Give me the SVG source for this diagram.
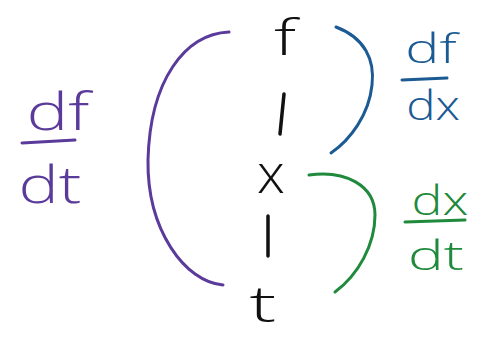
<svg xmlns="http://www.w3.org/2000/svg" width="490" height="339" viewBox="0 0 490 339">
<style>
  .t{font-family:"Open Sans","Liberation Sans",sans-serif;font-weight:300;text-anchor:middle}
  .k{fill:#111}
  .p{fill:#5a3a9a}.pl{stroke:#5a3a9a}
  .b{fill:#1c5a94}.bl{stroke:#1c5a94}
  .g{fill:#1f8a3c}.gl{stroke:#1f8a3c}
  .s{fill:none;stroke-width:3;stroke-linecap:round}
  .c{stroke:#111;stroke-width:3.5;stroke-linecap:round}
</style>
<rect width="490" height="339" fill="#fff"/>
<g id="node-f"><text class="t k" transform="translate(285,55) scale(1.5,1)" font-size="49">f</text></g>
<g id="node-x"><text class="t k" transform="translate(271,193)" font-size="56">x</text></g>
<g id="node-t"><text class="t k" transform="translate(263,322) scale(1.6,1)" font-size="50">t</text></g>
<g id="connectors">
  <line class="c" x1="284" y1="94" x2="280" y2="134"/>
  <line class="c" x1="268" y1="216" x2="268" y2="256"/>
</g>
<g id="bracket-dfdt">
  <path class="s pl" d="M229,32 C185,34 150,80 148,160 C147,230 185,282 223,285"/>
  <text class="t p" transform="translate(58,130) scale(1.35,1)" font-size="52">df</text>
  <line class="s pl" x1="22" y1="143" x2="75" y2="140"/>
  <text class="t p" transform="translate(50,203) scale(1.3,1)" font-size="52">dt</text>
</g>
<g id="bracket-dfdx">
  <path class="s bl" d="M336,27 C365,38 375,60 372,85 C369,115 350,140 331,153"/>
  <text class="t b" transform="translate(431,63) scale(1.4,1)" font-size="41">df</text>
  <line class="s bl" x1="402" y1="80" x2="447" y2="78"/>
  <text class="t b" transform="translate(433,120) scale(1.2,1)" font-size="41">dx</text>
</g>
<g id="bracket-dxdt">
  <path class="s gl" d="M309,175 C345,170 375,185 375,215 C375,245 358,275 335,292"/>
  <text class="t g" transform="translate(440,215) scale(1.3,1)" font-size="40">dx</text>
  <line class="s gl" x1="405" y1="222" x2="465" y2="220"/>
  <text class="t g" transform="translate(436,270) scale(1.5,1)" font-size="40">dt</text>
</g>
</svg>
